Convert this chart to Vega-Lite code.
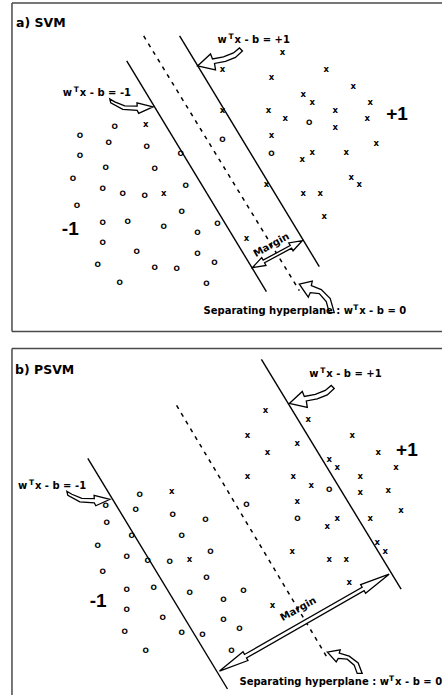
{
  "$schema": "https://vega.github.io/schema/vega-lite/v6.json",
  "width": 443,
  "height": 696,
  "autosize": {"type": "fit", "contains": "padding"},
  "padding": 0,
  "background": "white",
  "config": {"view": {"stroke": null}},
  "datasets": {
    "borders": [
      {"x": 12, "y": 3, "x2": 443, "y2": 3},
      {"x": 12, "y": 3, "x2": 12, "y2": 332},
      {"x": 12, "y": 332, "x2": 443, "y2": 332},
      {"x": 12, "y": 349, "x2": 443, "y2": 349},
      {"x": 12, "y": 349, "x2": 12, "y2": 696}
    ],
    "solid": [
      {"x": 127, "y": 61, "x2": 267, "y2": 292},
      {"x": 180, "y": 36, "x2": 320, "y2": 267},
      {"x": 262, "y": 360, "x2": 402, "y2": 590},
      {"x": 88, "y": 459, "x2": 228, "y2": 690}
    ],
    "dashed": [
      {"x": 144, "y": 36, "x2": 300, "y2": 291},
      {"x": 177, "y": 406, "x2": 327, "y2": 657}
    ],
    "arrows": [
      {"id": "A1", "i": 1, "x": 198, "y": 66},
      {"id": "A1", "i": 2, "x": 211, "y": 54},
      {"id": "A1", "i": 3, "x": 213, "y": 59},
      {"id": "A1", "i": 4, "x": 224, "y": 57},
      {"id": "A1", "i": 5, "x": 234, "y": 53},
      {"id": "A1", "i": 6, "x": 240, "y": 48},
      {"id": "A1", "i": 7, "x": 243, "y": 51},
      {"id": "A1", "i": 8, "x": 236, "y": 57.5},
      {"id": "A1", "i": 9, "x": 226, "y": 61.5},
      {"id": "A1", "i": 10, "x": 215, "y": 63.5},
      {"id": "A1", "i": 11, "x": 216, "y": 70},
      {"id": "B1", "i": 1, "x": 290, "y": 404},
      {"id": "B1", "i": 2, "x": 303, "y": 392},
      {"id": "B1", "i": 3, "x": 305, "y": 397},
      {"id": "B1", "i": 4, "x": 316, "y": 395},
      {"id": "B1", "i": 5, "x": 326, "y": 391},
      {"id": "B1", "i": 6, "x": 332, "y": 386},
      {"id": "B1", "i": 7, "x": 335, "y": 389},
      {"id": "B1", "i": 8, "x": 328, "y": 395.5},
      {"id": "B1", "i": 9, "x": 318, "y": 399.5},
      {"id": "B1", "i": 10, "x": 307, "y": 401.5},
      {"id": "B1", "i": 11, "x": 308, "y": 408},
      {"id": "A2", "i": 1, "x": 153.3, "y": 107},
      {"id": "A2", "i": 2, "x": 137.3, "y": 103},
      {"id": "A2", "i": 3, "x": 137.5, "y": 106.3},
      {"id": "A2", "i": 4, "x": 125, "y": 106},
      {"id": "A2", "i": 5, "x": 115, "y": 102},
      {"id": "A2", "i": 6, "x": 110, "y": 99},
      {"id": "A2", "i": 7, "x": 111, "y": 103},
      {"id": "A2", "i": 8, "x": 123, "y": 109.5},
      {"id": "A2", "i": 9, "x": 137.5, "y": 110.5},
      {"id": "A2", "i": 10, "x": 139, "y": 113.5},
      {"id": "B2", "i": 1, "x": 110.3, "y": 500},
      {"id": "B2", "i": 2, "x": 94.3, "y": 496},
      {"id": "B2", "i": 3, "x": 94.5, "y": 499.3},
      {"id": "B2", "i": 4, "x": 82, "y": 499},
      {"id": "B2", "i": 5, "x": 72, "y": 495},
      {"id": "B2", "i": 6, "x": 67, "y": 492},
      {"id": "B2", "i": 7, "x": 68, "y": 496},
      {"id": "B2", "i": 8, "x": 80, "y": 502.5},
      {"id": "B2", "i": 9, "x": 94.5, "y": 503.5},
      {"id": "B2", "i": 10, "x": 96, "y": 506.5},
      {"id": "A3", "i": 1, "x": 300, "y": 284.5},
      {"id": "A3", "i": 2, "x": 313, "y": 281.5},
      {"id": "A3", "i": 3, "x": 312, "y": 286},
      {"id": "A3", "i": 4, "x": 322, "y": 290},
      {"id": "A3", "i": 5, "x": 331, "y": 299},
      {"id": "A3", "i": 6, "x": 335, "y": 313},
      {"id": "A3", "i": 7, "x": 330, "y": 313},
      {"id": "A3", "i": 8, "x": 327, "y": 302},
      {"id": "A3", "i": 9, "x": 320, "y": 294},
      {"id": "A3", "i": 10, "x": 311, "y": 293},
      {"id": "A3", "i": 11, "x": 309, "y": 297.5},
      {"id": "B3", "i": 1, "x": 328, "y": 653},
      {"id": "B3", "i": 2, "x": 341, "y": 650.8},
      {"id": "B3", "i": 3, "x": 340, "y": 654.1},
      {"id": "B3", "i": 4, "x": 350, "y": 657.1},
      {"id": "B3", "i": 5, "x": 359, "y": 663.9},
      {"id": "B3", "i": 6, "x": 363, "y": 674.4},
      {"id": "B3", "i": 7, "x": 358, "y": 674.4},
      {"id": "B3", "i": 8, "x": 355, "y": 666.1},
      {"id": "B3", "i": 9, "x": 348, "y": 660.1},
      {"id": "B3", "i": 10, "x": 339, "y": 659.4},
      {"id": "B3", "i": 11, "x": 337, "y": 662.8},
      {"id": "A4", "i": 1, "x": 253, "y": 268},
      {"id": "A4", "i": 2, "x": 262.3, "y": 257.87},
      {"id": "A4", "i": 3, "x": 263.73, "y": 260.51},
      {"id": "A4", "i": 4, "x": 290.85, "y": 245.86},
      {"id": "A4", "i": 5, "x": 289.42, "y": 243.22},
      {"id": "A4", "i": 6, "x": 303, "y": 241},
      {"id": "A4", "i": 7, "x": 293.7, "y": 251.14},
      {"id": "A4", "i": 8, "x": 292.27, "y": 248.5},
      {"id": "A4", "i": 9, "x": 265.15, "y": 263.15},
      {"id": "A4", "i": 10, "x": 266.58, "y": 265.79},
      {"id": "B4", "i": 1, "x": 220, "y": 672},
      {"id": "B4", "i": 2, "x": 243.58, "y": 652.79},
      {"id": "B4", "i": 3, "x": 245.07, "y": 655.39},
      {"id": "B4", "i": 4, "x": 362.95, "y": 588.13},
      {"id": "B4", "i": 5, "x": 361.46, "y": 585.53},
      {"id": "B4", "i": 6, "x": 390, "y": 575},
      {"id": "B4", "i": 7, "x": 366.42, "y": 594.21},
      {"id": "B4", "i": 8, "x": 364.93, "y": 591.61},
      {"id": "B4", "i": 9, "x": 247.05, "y": 658.87},
      {"id": "B4", "i": 10, "x": 248.54, "y": 661.47}
    ],
    "markers": [
      {"m": "x", "x": 283, "y": 52}, {"m": "x", "x": 223, "y": 69}, {"m": "x", "x": 272, "y": 77},
      {"m": "x", "x": 327, "y": 69}, {"m": "x", "x": 354, "y": 86}, {"m": "x", "x": 304, "y": 94},
      {"m": "x", "x": 313, "y": 102}, {"m": "x", "x": 371, "y": 102}, {"m": "x", "x": 269, "y": 110},
      {"m": "x", "x": 223, "y": 110}, {"m": "x", "x": 286, "y": 118}, {"m": "x", "x": 336, "y": 110},
      {"m": "x", "x": 368, "y": 118}, {"m": "x", "x": 336, "y": 127}, {"m": "x", "x": 146, "y": 124},
      {"m": "x", "x": 272, "y": 135}, {"m": "x", "x": 377, "y": 143}, {"m": "x", "x": 313, "y": 152},
      {"m": "x", "x": 303, "y": 159}, {"m": "x", "x": 347, "y": 152}, {"m": "x", "x": 352, "y": 177},
      {"m": "x", "x": 360, "y": 184}, {"m": "x", "x": 304, "y": 193}, {"m": "x", "x": 321, "y": 193},
      {"m": "x", "x": 267, "y": 184}, {"m": "x", "x": 325, "y": 216}, {"m": "x", "x": 164, "y": 193},
      {"m": "x", "x": 247, "y": 238},
      {"m": "o", "x": 310, "y": 123}, {"m": "o", "x": 115, "y": 127}, {"m": "o", "x": 80, "y": 136},
      {"m": "o", "x": 109, "y": 143}, {"m": "o", "x": 147, "y": 147}, {"m": "o", "x": 223, "y": 140},
      {"m": "o", "x": 80, "y": 156}, {"m": "o", "x": 181, "y": 154}, {"m": "o", "x": 272, "y": 154},
      {"m": "o", "x": 106, "y": 168}, {"m": "o", "x": 155, "y": 169}, {"m": "o", "x": 73, "y": 179},
      {"m": "o", "x": 103, "y": 189}, {"m": "o", "x": 123, "y": 194}, {"m": "o", "x": 145, "y": 196},
      {"m": "o", "x": 186, "y": 186}, {"m": "o", "x": 77, "y": 206}, {"m": "o", "x": 182, "y": 212},
      {"m": "o", "x": 103, "y": 223}, {"m": "o", "x": 128, "y": 222}, {"m": "o", "x": 164, "y": 227},
      {"m": "o", "x": 198, "y": 233}, {"m": "o", "x": 218, "y": 224}, {"m": "o", "x": 103, "y": 243},
      {"m": "o", "x": 137, "y": 252}, {"m": "o", "x": 198, "y": 254}, {"m": "o", "x": 98, "y": 265},
      {"m": "o", "x": 155, "y": 268}, {"m": "o", "x": 177, "y": 269}, {"m": "o", "x": 215, "y": 263},
      {"m": "o", "x": 120, "y": 283}, {"m": "o", "x": 207, "y": 284},
      {"m": "x", "x": 266, "y": 411}, {"m": "x", "x": 309, "y": 420}, {"m": "x", "x": 248, "y": 436},
      {"m": "x", "x": 298, "y": 444}, {"m": "x", "x": 353, "y": 436}, {"m": "x", "x": 268, "y": 453},
      {"m": "x", "x": 379, "y": 453}, {"m": "x", "x": 330, "y": 460}, {"m": "x", "x": 338, "y": 468},
      {"m": "x", "x": 397, "y": 468}, {"m": "x", "x": 248, "y": 477}, {"m": "x", "x": 294, "y": 477},
      {"m": "x", "x": 312, "y": 486}, {"m": "x", "x": 361, "y": 477}, {"m": "x", "x": 361, "y": 493},
      {"m": "x", "x": 389, "y": 491}, {"m": "x", "x": 298, "y": 502}, {"m": "x", "x": 402, "y": 511},
      {"m": "x", "x": 172, "y": 492}, {"m": "x", "x": 338, "y": 519}, {"m": "x", "x": 371, "y": 519},
      {"m": "x", "x": 328, "y": 527}, {"m": "x", "x": 378, "y": 543}, {"m": "x", "x": 386, "y": 552},
      {"m": "x", "x": 293, "y": 552}, {"m": "x", "x": 330, "y": 560}, {"m": "x", "x": 347, "y": 560},
      {"m": "x", "x": 350, "y": 583}, {"m": "x", "x": 190, "y": 560}, {"m": "x", "x": 273, "y": 606},
      {"m": "o", "x": 330, "y": 491}, {"m": "o", "x": 140, "y": 496}, {"m": "o", "x": 106, "y": 507},
      {"m": "o", "x": 136, "y": 511}, {"m": "o", "x": 173, "y": 516}, {"m": "o", "x": 247, "y": 506},
      {"m": "o", "x": 298, "y": 520}, {"m": "o", "x": 206, "y": 521}, {"m": "o", "x": 107, "y": 524},
      {"m": "o", "x": 132, "y": 537}, {"m": "o", "x": 182, "y": 537}, {"m": "o", "x": 98, "y": 547},
      {"m": "o", "x": 127, "y": 558}, {"m": "o", "x": 148, "y": 562}, {"m": "o", "x": 170, "y": 563},
      {"m": "o", "x": 211, "y": 553}, {"m": "o", "x": 103, "y": 573}, {"m": "o", "x": 207, "y": 579},
      {"m": "o", "x": 127, "y": 591}, {"m": "o", "x": 154, "y": 589}, {"m": "o", "x": 190, "y": 594},
      {"m": "o", "x": 224, "y": 601}, {"m": "o", "x": 244, "y": 592}, {"m": "o", "x": 127, "y": 611},
      {"m": "o", "x": 163, "y": 619}, {"m": "o", "x": 224, "y": 621}, {"m": "o", "x": 240, "y": 630},
      {"m": "o", "x": 125, "y": 633}, {"m": "o", "x": 182, "y": 634}, {"m": "o", "x": 203, "y": 636},
      {"m": "o", "x": 146, "y": 652}, {"m": "o", "x": 232, "y": 652}
    ],
    "titles": [
      {"x": 16, "y": 27, "t": "a) SVM"},
      {"x": 15, "y": 375, "t": "b) PSVM"}
    ],
    "labels": [
      {"x": 218, "y": 43, "t": "w"}, {"x": 235, "y": 43, "t": "x - b = +1"},
      {"x": 63, "y": 96.5, "t": "w"}, {"x": 80, "y": 96.5, "t": "x - b = -1"},
      {"x": 310, "y": 378, "t": "w"}, {"x": 327, "y": 378, "t": "x - b = +1"},
      {"x": 18, "y": 490, "t": "w"}, {"x": 35, "y": 490, "t": "x - b = -1"},
      {"x": 204, "y": 314, "t": "Separating hyperplane : w"}, {"x": 360, "y": 314, "t": "x - b = 0"},
      {"x": 240, "y": 686, "t": "Separating hyperplane : w"}, {"x": 396, "y": 686, "t": "x - b = 0"}
    ],
    "sups": [
      {"x": 229, "y": 39, "t": "T"},
      {"x": 74, "y": 92.5, "t": "T"},
      {"x": 321, "y": 374, "t": "T"},
      {"x": 29, "y": 486, "t": "T"},
      {"x": 354, "y": 310, "t": "T"},
      {"x": 390, "y": 682, "t": "T"}
    ],
    "classes": [
      {"x": 387, "y": 120, "t": "+1"},
      {"x": 62, "y": 235, "t": "-1"},
      {"x": 397, "y": 457, "t": "+1"},
      {"x": 90, "y": 608, "t": "-1"}
    ],
    "margins": [
      {"x": 272, "y": 245.5, "t": "Margin"},
      {"x": 299, "y": 610, "t": "Margin"}
    ]
  },
  "encoding": {
    "x": {"field": "x", "type": "quantitative", "scale": {"domain": [0, 443], "nice": false, "zero": false}, "axis": null},
    "y": {"field": "y", "type": "quantitative", "scale": {"domain": [0, 696], "nice": false, "zero": false, "reverse": true}, "axis": null}
  },
  "layer": [
    {
      "data": {"name": "borders"},
      "mark": {"type": "rule", "stroke": "#4a4a4a", "strokeWidth": 1.5},
      "encoding": {"x2": {"field": "x2"}, "y2": {"field": "y2"}}
    },
    {
      "data": {"name": "solid"},
      "mark": {"type": "rule", "stroke": "black", "strokeWidth": 1.4},
      "encoding": {"x2": {"field": "x2"}, "y2": {"field": "y2"}}
    },
    {
      "data": {"name": "dashed"},
      "mark": {"type": "rule", "stroke": "black", "strokeWidth": 1.5, "strokeDash": [4, 5]},
      "encoding": {"x2": {"field": "x2"}, "y2": {"field": "y2"}}
    },
    {
      "data": {"name": "arrows"},
      "mark": {"type": "line", "interpolate": "linear-closed", "stroke": "black", "strokeWidth": 1.3, "fill": "white", "strokeJoin": "miter"},
      "encoding": {"detail": {"field": "id"}, "order": {"field": "i", "type": "quantitative"}}
    },
    {
      "data": {"name": "markers"},
      "transform": [{"filter": "datum.m === 'x'"}],
      "mark": {"type": "text", "text": "x", "font": "DejaVu Sans", "fontWeight": "bold", "fontSize": 8.5, "align": "center", "baseline": "middle", "fill": "black"}
    },
    {
      "data": {"name": "markers"},
      "transform": [{"filter": "datum.m === 'o'"}],
      "mark": {"type": "text", "text": "O", "font": "DejaVu Sans", "fontWeight": "bold", "fontSize": 7.5, "align": "center", "baseline": "middle", "fill": "black"}
    },
    {
      "data": {"name": "titles"},
      "mark": {"type": "text", "font": "DejaVu Sans", "fontWeight": "bold", "fontSize": 12.5, "align": "left", "baseline": "alphabetic", "fill": "black"},
      "encoding": {"text": {"field": "t"}}
    },
    {
      "data": {"name": "labels"},
      "mark": {"type": "text", "font": "DejaVu Sans", "fontWeight": "bold", "fontSize": 10, "align": "left", "baseline": "alphabetic", "fill": "black"},
      "encoding": {"text": {"field": "t"}}
    },
    {
      "data": {"name": "sups"},
      "mark": {"type": "text", "font": "DejaVu Sans", "fontWeight": "bold", "fontSize": 7.5, "align": "left", "baseline": "alphabetic", "fill": "black"},
      "encoding": {"text": {"field": "t"}}
    },
    {
      "data": {"name": "classes"},
      "mark": {"type": "text", "font": "Liberation Sans", "fontWeight": "bold", "fontSize": 19, "align": "left", "baseline": "alphabetic", "fill": "black"},
      "encoding": {"text": {"field": "t"}}
    },
    {
      "data": {"name": "margins"},
      "mark": {"type": "text", "font": "DejaVu Sans", "fontWeight": "bold", "fontSize": 10, "align": "center", "baseline": "middle", "angle": -29, "fill": "black"},
      "encoding": {"text": {"field": "t"}}
    }
  ]
}
